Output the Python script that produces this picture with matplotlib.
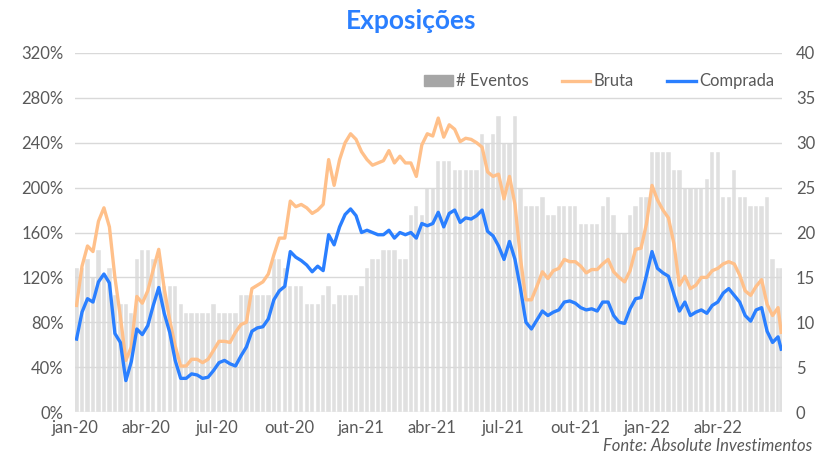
import pandas as pd
import matplotlib.pyplot as plt
from matplotlib.patches import Patch
from matplotlib.lines import Line2D

plt.rcParams['font.family'] = ['Lato', 'DejaVu Sans']

# weekly readings, first week ending 2020-01-03, then the last day 2022-06-21
dates = list(pd.date_range("2020-01-03", periods=129, freq="7D")) + [pd.Timestamp("2022-06-21")]

bruta = [95, 130, 148, 143, 170, 182, 165, 120, 85, 46,
         58, 103, 97, 108, 127, 145, 110, 82, 59, 41,
         41, 47, 47, 44, 47, 55, 63, 63, 62, 71,
         78, 80, 110, 113, 116, 123, 140, 155, 155, 188,
         183, 185, 182, 177, 180, 185, 225, 202, 225, 240,
         248, 243, 232, 225, 220, 222, 224, 233, 222, 228,
         222, 222, 210, 238, 248, 246, 262, 245, 256, 252,
         241, 244, 243, 240, 236, 214, 210, 212, 190, 210,
         185, 137, 100, 100, 112, 125, 119, 126, 128, 136,
         134, 134, 130, 124, 127, 127, 132, 136, 125, 120,
         116, 126, 145, 146, 168, 202, 189, 180, 173, 150,
         113, 121, 110, 113, 120, 120, 126, 128, 132, 134,
         132, 122, 108, 104, 112, 118, 96, 86, 93, 71]

comprada = [65, 89, 101, 98, 116, 123, 115, 70, 62, 28,
            45, 74, 69, 77, 95, 111, 88, 71, 46, 30,
            30, 34, 33, 30, 31, 37, 44, 46, 43, 41,
            50, 58, 72, 75, 76, 83, 100, 108, 112, 143,
            138, 135, 131, 125, 130, 126, 158, 149, 165, 176,
            181, 175, 160, 162, 160, 158, 158, 162, 155, 160,
            158, 160, 155, 168, 166, 168, 178, 165, 177, 180,
            169, 173, 172, 175, 180, 161, 157, 148, 136, 152,
            136, 110, 80, 74, 82, 90, 86, 89, 91, 98,
            99, 97, 93, 91, 92, 90, 98, 98, 86, 80,
            79, 92, 101, 102, 122, 143, 128, 124, 121, 105,
            90, 98, 86, 89, 91, 88, 95, 98, 106, 110,
            104, 98, 86, 81, 91, 93, 72, 62, 67, 56]

eventos = [16, 16, 17, 15, 18, 15, 16, 13, 12, 12,
           11, 17, 18, 18, 17, 17, 14, 14, 14, 12,
           11, 11, 11, 11, 11, 12, 11, 11, 11, 11,
           13, 13, 13, 13, 13, 13, 17, 17, 16, 14,
           14, 14, 12, 12, 12, 13, 14, 12, 13, 13,
           13, 13, 14, 16, 17, 17, 18, 18, 18, 17,
           17, 22, 23, 22, 25, 25, 28, 28, 28, 27,
           27, 27, 27, 27, 31, 30, 31, 33, 30, 30,
           33, 25, 23, 23, 23, 24, 22, 22, 23, 23,
           23, 23, 21, 21, 21, 21, 23, 24, 22, 20,
           20, 22, 23, 24, 24, 29, 29, 29, 29, 27,
           27, 25, 25, 25, 25, 26, 29, 29, 24, 24,
           27, 24, 24, 23, 23, 23, 24, 17, 16, 16]

tick_dates = pd.date_range("2020-01-01", "2022-04-01", freq="QS")
tick_labels = ["jan-20", "abr-20", "jul-20", "out-20", "jan-21", "abr-21",
               "jul-21", "out-21", "jan-22", "abr-22"]

c_bruta = "#FFC08A"
c_comp = "#2A7FFF"
c_bar = "#E0E0E0"
c_txt = "#595959"

fig = plt.figure(figsize=(8.22, 4.62), dpi=100)
ax1 = fig.add_axes([0.0912, 0.1082, 0.8601, 0.7771])
ax2 = ax1.twinx()

ax2.bar(dates, eventos, width=5.5, color=c_bar, edgecolor="white", linewidth=0.3)
ax1.plot(dates, bruta, color=c_bruta, lw=2.4)
ax1.plot(dates, comprada, color=c_comp, lw=2.4)

ax1.set_zorder(ax2.get_zorder() + 1)
ax1.patch.set_visible(False)

ax1.set_ylim(0, 320)
ax2.set_ylim(0, 40)
ax1.set_yticks(range(0, 321, 40))
ax1.set_yticklabels([f"{v}%" for v in range(0, 321, 40)])
ax2.set_yticks(range(0, 41, 5))
ax1.set_xlim(pd.Timestamp("2020-01-01"), pd.Timestamp("2022-06-22"))
ax1.set_xticks(tick_dates)
ax1.set_xticklabels(tick_labels)

ax1.grid(axis="y", color="#D9D9D9", lw=1)
ax1.set_axisbelow(True)
for a in (ax1, ax2):
    for s in a.spines.values():
        s.set_visible(False)
    a.tick_params(length=0, labelsize=12, colors=c_txt)
ax1.tick_params(axis="y", pad=8)
ax2.tick_params(axis="y", pad=10)
ax1.tick_params(axis="x", pad=6)

handles = [Patch(color="#A6A6A6", label="# Eventos"),
           Line2D([], [], color=c_bruta, lw=2.4, label="Bruta"),
           Line2D([], [], color=c_comp, lw=2.4, label="Comprada")]
leg = ax1.legend(handles=handles, ncol=3, loc="upper right", bbox_to_anchor=(1.01, 0.985),
                 frameon=False, fontsize=12, handlelength=1.7, handletextpad=0.2,
                 columnspacing=2.0, labelcolor=c_txt)

fig.text(0.5, 0.955, "Exposições", ha="center", va="center", fontsize=19,
         fontweight="bold", color=c_comp)
fig.text(0.988, 0.018, "Fonte: Absolute Investimentos", ha="right", va="bottom",
         fontsize=12, style="italic", color=c_txt)

fig.savefig("out.png", dpi=100)
